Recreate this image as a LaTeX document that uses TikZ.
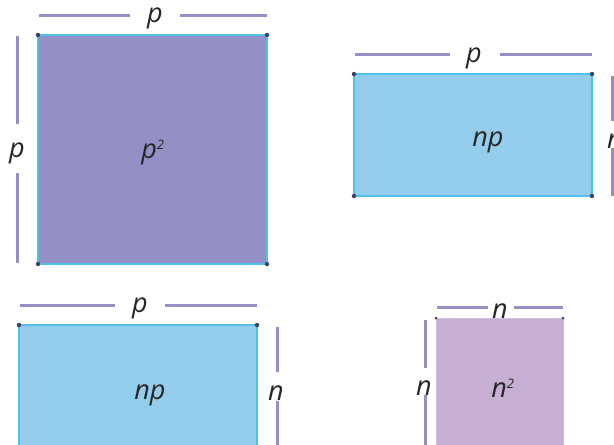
\documentclass[tikz,border=0pt]{standalone}
\usepackage{fontspec}
\setmainfont{Open Sans}
\usepackage{xcolor}
\usetikzlibrary{positioning}

\definecolor{bigsq}{HTML}{948FC4}
\definecolor{rectblue}{HTML}{94CDEB}
\definecolor{smallsq}{HTML}{C6AFD3}
\definecolor{edgeblue}{HTML}{4EC0EE}
\definecolor{dimline}{HTML}{9A8CC4}
\definecolor{dotcol}{HTML}{3E4560}

\begin{document}
\begin{tikzpicture}[
  x=1pt, y=-1pt,
  area/.style={draw=edgeblue, line width=1.4pt},
  dim/.style={draw=dimline, line width=3pt},
  lbl/.style={font=\fontsize{27}{27}\selectfont\itshape, text=black!85, inner sep=0pt, yshift=-3pt},
  corner/.style={circle, fill=dotcol, inner sep=0pt, minimum size=4.5pt}
]
\useasboundingbox (0,0) rectangle (614,445);
\clip (0,0) rectangle (614,445);

% -- big square p^2
\draw[area, fill=bigsq] (38,35) coordinate (a1) rectangle (267,264) coordinate (a3);
\foreach \c in {(38,35),(267,35),(38,264),(267,264)}
  \node[corner] at \c {};
\node[lbl] (asq) at (153,150) {p\textsuperscript{\fontsize{13}{13}\selectfont 2}};
\node[lbl] (atop) at (155,15) {p};
\node[lbl] (aleft) at (17,150) {p};
\draw[dim] (39,15) -- (130,15);
\draw[dim] (180,15) -- (267,15);
\draw[dim] (17,36) -- (17,124);
\draw[dim] (17,173) -- (17,263);

% -- rectangle np, upper right
\draw[area, fill=rectblue] (354,74) coordinate (b1) rectangle (592,196) coordinate (b3);
\foreach \c in {(354,74),(592,74),(354,196),(592,196)}
  \node[corner] at \c {};
\node[lbl] (brect) at (488,139) {np};
\node[lbl] (btop) at (474,55) {p};
\node[lbl] (bright) at (615,138) {n};
\draw[dim] (355,54) -- (450,54);
\draw[dim] (500,54) -- (592,54);
\draw[dim] (612,76) -- (612,121);
\draw[dim] (612,148) -- (612,196);

% -- rectangle np, lower left
\draw[area, fill=rectblue] (19,325) coordinate (c1) rectangle (257,470) coordinate (c3);
\foreach \c in {(19,325),(257,325)}
  \node[corner] at \c {};
\node[lbl] (crect) at (150,392) {np};
\node[lbl] (ctop) at (140,305) {p};
\node[lbl] (cright) at (276,390) {n};
\draw[dim] (20,305) -- (115,305);
\draw[dim] (165,305) -- (257,305);
\draw[dim] (277,327) -- (277,372);
\draw[dim] (277,401) -- (277,450);

% -- small square n^2
\draw[draw=smallsq!80!white, line width=1pt, fill=smallsq] (436,318) coordinate (d1) rectangle (563,470) coordinate (d3);
\foreach \c in {(436,318),(563,318)}
  \node[corner, minimum size=3pt] at \c {};
\node[lbl] (dsq) at (503,385) {n\textsuperscript{\fontsize{13}{13}\selectfont 2}};
\node[lbl] (dtop) at (500,308) {n};
\node[lbl] (dleft) at (424,385) {n};
\draw[dim] (437,307) -- (488,307);
\draw[dim] (514,307) -- (563,307);
\draw[dim] (425,320) -- (425,368);
\draw[dim] (425,395) -- (425,450);
\end{tikzpicture}
\end{document}
